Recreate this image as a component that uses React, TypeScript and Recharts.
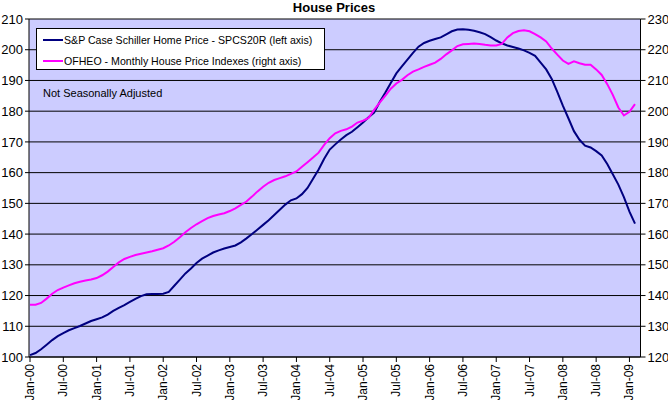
import React from 'react';
import { LineChart, Line, XAxis, YAxis, CartesianGrid } from 'recharts';

const years = ['00', '01', '02', '03', '04', '05', '06', '07', '08', '09'];
const monthNames = ['Jan', 'Feb', 'Mar', 'Apr', 'May', 'Jun', 'Jul', 'Aug', 'Sep', 'Oct', 'Nov', 'Dec'];

// S&P Case Schiller Home Price - SPCS20R (left axis), Jan-00 .. Feb-09
const caseShiller = [
  100.6, 101.3, 102.5, 104.0, 105.5, 106.8, 107.8, 108.7, 109.4, 110.1, 110.9, 111.7,
  112.3, 112.9, 113.8, 115.0, 116.0, 116.9, 117.9, 118.9, 119.8, 120.4, 120.5, 120.5,
  120.6, 121.2, 123.2, 125.2, 127.2, 128.8, 130.6, 132.0, 133.0, 134.0, 134.7, 135.3,
  135.8, 136.3, 137.3, 138.6, 140.0, 141.5, 143.0, 144.5, 146.2, 147.9, 149.6, 151.0,
  151.6, 153.0, 155.0, 158.0, 161.0, 164.5, 167.5, 169.2, 170.8, 172.2, 173.3, 174.8,
  176.3, 178.0, 179.5, 183.0, 186.0, 189.2, 192.3, 194.6, 196.8, 199.0, 201.0, 202.2,
  202.9, 203.5, 204.0, 205.0, 206.0, 206.6, 206.7, 206.5, 206.2, 205.7, 205.1, 204.1,
  203.0, 202.1, 201.4, 200.9, 200.4, 199.8, 199.0, 198.0, 195.8, 193.6, 190.5, 186.3,
  181.8, 177.7, 173.5, 170.7, 168.8, 168.2, 167.0, 165.6, 162.8, 159.5, 156.1, 152.0,
  147.3, 143.4,
];

// OFHEO - Monthly House Price Indexes (right axis), Jan-00 .. Feb-09
const ofheo = [
  137.0, 137.0, 137.6, 139.0, 140.6, 141.8, 142.6, 143.3, 144.0, 144.5, 144.9, 145.2,
  145.7, 146.6, 147.8, 149.3, 150.8, 151.9, 152.6, 153.2, 153.6, 154.0, 154.4, 154.9,
  155.4, 156.3, 157.5, 159.0, 160.6, 162.0, 163.2, 164.2, 165.2, 165.9, 166.4, 166.8,
  167.5, 168.4, 169.5, 170.6, 172.2, 173.9, 175.4, 176.7, 177.6, 178.2, 178.8, 179.6,
  180.4, 181.9, 183.4, 184.9, 186.5, 189.0, 191.2, 192.8, 193.6, 194.1, 195.0, 196.3,
  196.9, 197.8, 200.4, 202.8, 205.0, 207.3, 209.0, 210.2, 211.7, 212.9, 213.6, 214.4,
  215.1, 215.8, 217.0, 218.5, 219.8, 221.2, 221.8, 221.9, 222.0, 221.9, 221.6, 221.4,
  221.4, 221.9, 224.0, 225.4, 226.1, 226.3, 226.0, 225.1, 224.0, 222.7, 220.4, 218.4,
  216.5, 215.4, 216.2, 215.6, 215.1, 215.1, 213.6, 211.8, 208.8, 205.3, 201.2, 198.6,
  199.8, 202.3,
];

const months: string[] = [];
years.forEach((y) => monthNames.forEach((m) => months.push(`${m}-${y}`)));
const categories = months.slice(0, caseShiller.length);

const xTicks = categories.filter((c) => c.startsWith('Jan') || c.startsWith('Jul'));
const leftTicks = [100, 110, 120, 130, 140, 150, 160, 170, 180, 190, 200, 210];
const rightTicks = [120, 130, 140, 150, 160, 170, 180, 190, 200, 210, 220, 230];

const data = categories.map((c, i) => ({ month: c, cs: caseShiller[i], ofheo: ofheo[i] }));

const FONT = 'Liberation Sans, Arial, sans-serif';

const XTick = (props: any) => {
  const { x, y, payload } = props;
  return (
    <text
      x={x}
      y={y}
      transform={`rotate(-90 ${x} ${y})`}
      textAnchor="end"
      dy={4}
      fontSize={12}
      fontFamily={FONT}
      fill="#000"
    >
      {payload.value}
    </text>
  );
};

export default function App() {
  return (
    <div style={{ position: 'absolute', left: 0, top: 0, width: 668, height: 400, background: '#fff', fontFamily: FONT }}>
      <div
        style={{
          position: 'absolute',
          left: 0,
          top: 0,
          width: 668,
          textAlign: 'center',
          fontSize: 13,
          fontWeight: 'bold',
          lineHeight: '16px',
          color: '#000',
        }}
      >
        House Prices
      </div>
      <LineChart width={668} height={400} data={data} margin={{ top: 19, right: 0, bottom: 0, left: 0 }}>
        <CartesianGrid
          yAxisId="left"
          vertical={false}
          stroke="#000"
          strokeWidth={1}
          fill="#CCCCFF"
          fillOpacity={1}
        />
        <XAxis
          dataKey="month"
          ticks={xTicks}
          interval={0}
          height={43}
          padding={{ left: 1, right: 5.5 }}
          tick={<XTick />}
          tickSize={5}
          tickMargin={2}
          axisLine={{ stroke: '#000' }}
          tickLine={{ stroke: '#000' }}
        />
        <YAxis
          yAxisId="left"
          orientation="left"
          width={29}
          domain={[100, 210]}
          ticks={leftTicks}
          interval={0}
          tickSize={4}
          tickMargin={2}
          axisLine={{ stroke: '#000' }}
          tickLine={{ stroke: '#000' }}
          tick={{ fontSize: 13, fill: '#000', fontFamily: FONT }}
        />
        <YAxis
          yAxisId="right"
          orientation="right"
          width={27.5}
          domain={[120, 230]}
          ticks={rightTicks}
          interval={0}
          tickSize={5}
          tickMargin={2}
          axisLine={{ stroke: '#000' }}
          tickLine={{ stroke: '#000' }}
          tick={{ fontSize: 13, fill: '#000', fontFamily: FONT }}
        />
        <Line
          yAxisId="left"
          type="linear"
          dataKey="cs"
          stroke="#000080"
          strokeWidth={2}
          dot={false}
          isAnimationActive={false}
        />
        <Line
          yAxisId="right"
          type="linear"
          dataKey="ofheo"
          stroke="#FF00FF"
          strokeWidth={2}
          dot={false}
          isAnimationActive={false}
        />
      </LineChart>
      <div
        style={{
          position: 'absolute',
          left: 36,
          top: 28,
          width: 287,
          height: 40,
          background: '#fff',
          border: '1px solid #000',
          fontSize: 10.6,
          color: '#000',
        }}
      >
        {[
          { label: 'S&P Case Schiller Home Price - SPCS20R (left axis)', color: '#000080', top: 4 },
          { label: 'OFHEO - Monthly House Price Indexes (right axis)', color: '#FF00FF', top: 25 },
        ].map((e) => (
          <div key={e.label} style={{ position: 'absolute', left: 6, top: e.top, height: 14, display: 'flex', alignItems: 'center' }}>
            <div style={{ width: 20, height: 2, background: e.color, marginRight: 1 }} />
            <span style={{ whiteSpace: 'nowrap' }}>{e.label}</span>
          </div>
        ))}
      </div>
      <div style={{ position: 'absolute', left: 43, top: 87, fontSize: 11, color: '#000', whiteSpace: 'nowrap' }}>
        Not Seasonally Adjusted
      </div>
    </div>
  );
}
